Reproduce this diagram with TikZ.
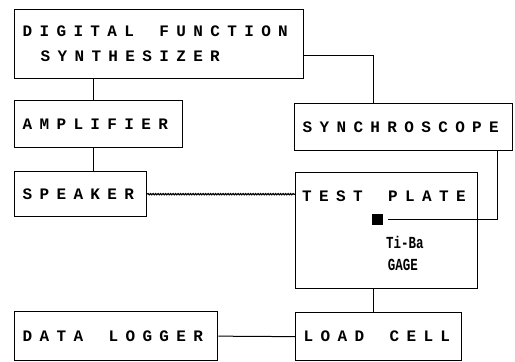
\documentclass[tikz,border=0pt]{standalone}
\usepackage{fontspec}
\usepackage{graphicx}
\setmainfont{Liberation Serif}
\newfontfamily\spacedfont[LetterSpace=46]{Liberation Mono}
\newfontfamily\gagefont{Liberation Mono}
\usetikzlibrary{decorations.pathmorphing}
\newcommand\lblfont{\spacedfont\bfseries\fontsize{16}{25}\selectfont\hyphenpenalty=10000\relax}
\newcommand\wgap{\hspace*{25.5pt}}
\newcommand\tall[1]{\scalebox{1}[1.35]{#1}}
\begin{document}
\begin{tikzpicture}[x=1pt,y=-1pt,
  frame/.style={draw, line width=1.3pt, anchor=north west, inner xsep=8pt, inner ysep=0pt, align=left, font=\lblfont},
  lbl/.style={anchor=west, inner sep=0pt, font=\lblfont},
  gage/.style={inner sep=0pt, font=\gagefont\bfseries\fontsize{12.5}{13}\selectfont},
  wire/.style={line width=1pt},
  cable/.style={line width=1.2pt, decorate, decoration={snake, amplitude=0.6pt, segment length=2.5pt}}]
\useasboundingbox (0,0) rectangle (515,362);
% boxes
\node[frame, text width=273pt, minimum height=69pt] (dfs) at (14,9) {\mbox{DIGITAL\wgap FUNCTION}\\\hspace*{18pt}SYNTHESIZER};
\node[frame, text width=152pt, minimum height=47pt] (amp) at (14,100) {AMPLIFIER};
\node[frame, text width=116pt, minimum height=45pt] (spk) at (14,171) {SPEAKER};
\node[frame, text width=202pt, minimum height=47pt] (syn) at (294,103) {SYNCHROSCOPE};
\node[frame, minimum width=182pt, minimum height=116pt] (tp) at (295,172) {};
\node[lbl] (tpl) at (302,196) {TEST\wgap PLATE};
\node[fill=black, inner sep=0pt, minimum size=11pt] (sq) at (377.5,219.5) {};
\node[gage] (tiba) at (405,242.5) {\tall{Ti-Ba}};
\node[gage] (gg) at (403,264.5) {\tall{GAGE}};
\node[frame, text width=150pt, minimum height=48pt] (lc) at (295,312) {LOAD\wgap CELL};
\node[frame, text width=187pt, minimum height=49pt] (dl) at (14,311) {DATA\wgap LOGGER};
% connectors
\draw[wire] ([xshift=79pt]dfs.south west) -- ([xshift=79pt]amp.north west);
\draw[wire] ([xshift=79pt]amp.south west) -- ([xshift=79pt]spk.north west);
\draw[wire] ([yshift=-11pt]dfs.east) -| ([xshift=79pt]syn.north west);
\draw[cable] (spk.east) -- (spk.east -| tp.west);
\draw[wire] ([xshift=5pt]sq.east) -| ([xshift=-16pt]syn.south east);
\draw[wire] ([xshift=78pt]tp.south west) -- ([xshift=78pt]lc.north west);
\draw[wire] (dl.east) -- (lc.west);
\end{tikzpicture}
\end{document}
